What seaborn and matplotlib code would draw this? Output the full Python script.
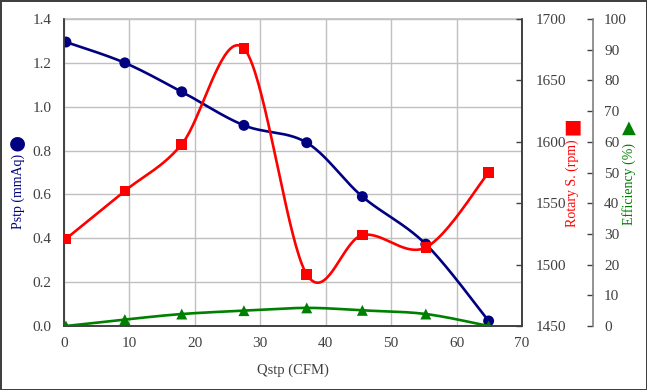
import numpy as np
import matplotlib.pyplot as plt
import seaborn as sns

# values
qstp = [0.3, 9.3, 18.0, 27.5, 37.1, 45.6, 55.3, 64.9]
pstp = [1.295, 1.20, 1.068, 0.915, 0.836, 0.59, 0.373, 0.023]
rpm = [1521, 1560, 1598, 1676, 1492, 1524, 1514, 1575]
eff = [0.0, 2.1, 3.9, 5.0, 5.9, 5.1, 3.9, 0.0]

x_ticks = [0, 10, 20, 30, 40, 50, 60, 70]
p_ticks = [0.0, 0.2, 0.4, 0.6, 0.8, 1.0, 1.2, 1.4]
rpm_ticks = [1450, 1500, 1550, 1600, 1650, 1700]
eff_ticks = list(range(0, 101, 10))

navy = '#000080'
red = '#ff0000'
green = '#008000'
txt = '#404040'


def smooth(x, y, n=40):
    # excel like smoothed line (bezier through the points)
    x = np.asarray(x, float)
    y = np.asarray(y, float)
    px = np.concatenate([[x[0]], x, [x[-1]]])
    py = np.concatenate([[y[0]], y, [y[-1]]])
    xs, ys = [], []
    t = np.linspace(0, 1, n)
    for i in range(1, len(px) - 2):
        p0 = np.array([px[i], py[i]])
        p3 = np.array([px[i + 1], py[i + 1]])
        c1 = p0 + (np.array([px[i + 1], py[i + 1]]) - np.array([px[i - 1], py[i - 1]])) / 6
        c2 = p3 - (np.array([px[i + 2], py[i + 2]]) - np.array([px[i], py[i]])) / 6
        pts = ((1 - t) ** 3)[:, None] * p0 + (3 * (1 - t) ** 2 * t)[:, None] * c1 \
            + (3 * (1 - t) * t ** 2)[:, None] * c2 + (t ** 3)[:, None] * p3
        xs.extend(pts[:, 0])
        ys.extend(pts[:, 1])
    return np.array(xs), np.array(ys)


sns.set_theme(style='white')
plt.rcParams['font.family'] = ['Liberation Serif', 'DejaVu Sans']

fig = plt.figure(figsize=(6.47, 3.9), dpi=100)
fig.subplots_adjust(left=64 / 647, right=522 / 647, top=1 - 19 / 390, bottom=1 - 326 / 390)
ax = fig.add_subplot(111)
ax2 = ax.twinx()
ax3 = ax.twinx()

# Pstp
sx, sy = smooth(qstp, pstp)
sns.lineplot(x=sx, y=sy, ax=ax, color=navy, lw=1.9, sort=False, estimator=None)
sns.scatterplot(x=qstp, y=pstp, ax=ax, color=navy, s=62, marker='o', edgecolor='none', zorder=5)

# rotary speed
sx, sy = smooth(qstp, rpm)
sns.lineplot(x=sx, y=sy, ax=ax2, color=red, lw=1.9, sort=False, estimator=None)
sns.scatterplot(x=qstp, y=rpm, ax=ax2, color=red, s=58, marker='s', edgecolor='none', zorder=5)

# efficiency
sx, sy = smooth(qstp, eff)
sns.lineplot(x=sx, y=sy, ax=ax3, color=green, lw=1.9, sort=False, estimator=None)
sns.scatterplot(x=qstp, y=eff, ax=ax3, color=green, s=62, marker='^', edgecolor='none', zorder=5)

ax.set_xlim(0, 70)
ax.set_ylim(0, 1.4)
ax2.set_ylim(1450, 1700)
ax3.set_ylim(0, 100)

ax.set_xticks(x_ticks)
ax.set_xticklabels([str(v) for v in x_ticks])
ax.set_yticks(p_ticks)
ax.set_yticklabels(['%.1f' % v for v in p_ticks])
ax2.set_yticks(rpm_ticks)
ax2.set_yticklabels([str(v) for v in rpm_ticks])
ax3.set_yticks(eff_ticks)
ax3.set_yticklabels([str(v) for v in eff_ticks])

ax.grid(True, color='#c0c0c0', lw=1)
ax.set_axisbelow(True)

for a in (ax, ax2):
    for s in a.spines.values():
        s.set_color('#404040')
        s.set_linewidth(1.2)
ax.spines['top'].set_color('#c0c0c0')
ax2.spines['top'].set_visible(False)
ax3.spines['top'].set_visible(False)
ax3.spines['left'].set_visible(False)
ax3.spines['bottom'].set_visible(False)
ax3.spines['right'].set_position(('axes', 1 + 71 / 458))
ax3.spines['right'].set_color('#808080')
ax3.spines['right'].set_linewidth(1.2)

ax.tick_params(axis='both', length=0, labelsize=11, labelcolor=txt)
ax.tick_params(axis='y', pad=9)
ax.tick_params(axis='x', pad=8)
ax2.tick_params(axis='y', direction='in', length=4, width=1, color='#404040', labelsize=11, labelcolor=txt, pad=10)
ax3.tick_params(axis='y', direction='in', length=4, width=1, color='#404040', labelsize=11, labelcolor=txt, pad=8)

ax.set_xlabel('Qstp (CFM)', fontsize=10.5, color=txt, labelpad=10)
ax.set_ylabel('Pstp (mmAq)', fontsize=10, color=navy)
ax2.set_ylabel('Rotary S. (rpm)', fontsize=10, color=red)
ax3.set_ylabel('Efficiency (%)', fontsize=10, color=green)
ax.yaxis.set_label_coords(-46 / 458, 135 / 307)
ax2.yaxis.set_label_coords(1 + 50 / 458, 143 / 307)
ax3.yaxis.set_label_coords(1 + 107 / 458, 142 / 307)
for a in (ax, ax2, ax3):
    a.yaxis.label.set_va('center')
    a.yaxis.label.set_rotation(90)

# legend symbols above the axis titles
fig.text(17 / 647, 1 - 143 / 390, '\u25cf', color=navy, fontsize=14, ha='center', va='center', family='DejaVu Sans')
fig.text(572 / 647, 1 - 127 / 390, '\u25a0', color=red, fontsize=14, ha='center', va='center', family='DejaVu Sans')
fig.text(629 / 647, 1 - 128 / 390, '\u25b2', color=green, fontsize=13, ha='center', va='center', family='DejaVu Sans')

fig.patch.set_edgecolor('#404040')
fig.patch.set_linewidth(2)

fig.savefig('out.png', dpi=100, edgecolor=fig.get_edgecolor())
